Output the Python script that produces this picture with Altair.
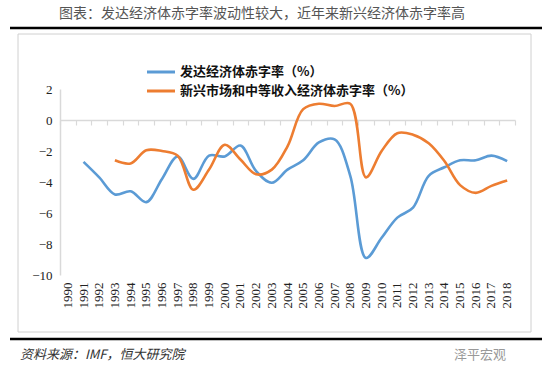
import altair as alt
import pandas as pd

years = [str(y) for y in range(1990, 2019)]
developed = [None, -2.7, -3.7, -4.8, -4.6, -5.3, -3.8, -2.35, -3.8, -2.3, -2.35, -1.65,
             -3.3, -4.05, -3.2, -2.6, -1.45, -1.25, -3.6, -8.9, -7.6, -6.3, -5.65,
             -3.6, -3.05, -2.6, -2.6, -2.3, -2.65]
emerging = [None, None, None, -2.6, -2.8, -1.95, -2.0, -2.3, -4.5, -3.2, -1.6, -2.55,
            -3.5, -3.2, -1.7, 0.7, 1.05, 0.9, 1.05, -3.7, -2.0, -0.85, -0.95, -1.5,
            -2.65, -4.2, -4.7, -4.25, -3.9]
series_names = ["发达经济体赤字率（%）", "新兴市场和中等收入经济体赤字率（%）"]
series_colors = ["#5B9BD5", "#ED7D31"]
y_ticks = [-10, -8, -6, -4, -2, 0, 2]

title_text = "图表：发达经济体赤字率波动性较大，近年来新兴经济体赤字率高"
source_text = "资料来源：IMF，恒大研究院"
mark_text = "泽平宏观"

rows = []
for name, vals in zip(series_names, [developed, emerging]):
    for yr, v in zip(years, vals):
        if v is not None:
            rows.append({"year": yr, "value": v, "series": name})
df = pd.DataFrame(rows)

xscale = alt.Scale(domain=years, paddingInner=0, paddingOuter=0)
yscale = alt.Scale(domain=[-10, 2], nice=False, zero=False)

lines = alt.Chart(df).mark_line(strokeWidth=2.6, interpolate="catmull-rom").encode(
    x=alt.X("year:O", scale=xscale, sort=years,
            axis=alt.Axis(title=None, orient="bottom", labelAngle=-90,
                          labelFont="Liberation Serif", labelOverlap=False,
                          labelFontSize=13, labelColor="#222", domain=False, ticks=False,
                          labelPadding=7, grid=False)),
    y=alt.Y("value:Q", scale=yscale,
            axis=alt.Axis(title=None, values=y_ticks, ticks=False, grid=False,
                          labelOverlap=False,
                          domainColor="#d9d9d9", domainWidth=1.5,
                          labelFont="Liberation Serif", labelFontSize=13,
                          labelColor="#222", labelPadding=8)),
    color=alt.Color("series:N", scale=alt.Scale(domain=series_names, range=series_colors),
                    legend=None),
)

# axis drawn along y = 0 with ticks at the year boundaries
zero_axis = alt.Chart(df).mark_point(opacity=0).encode(
    x=alt.X("year:O", scale=xscale, sort=years,
            axis=alt.Axis(title=None, orient="bottom", labels=False, offset=-155,
                          domainColor="#d9d9d9",
                          domainWidth=1.5, tickColor="#d9d9d9", tickSize=5,
                          tickWidth=1.2, tickBand="extent", grid=False)),
)

# manual legend
legend_layers = []
for i, (name, col) in enumerate(zip(series_names, series_colors)):
    ly = -17 + 19 * i
    legend_layers.append(
        alt.Chart(pd.DataFrame({"t": [name]})).mark_rule(color=col, strokeWidth=3).encode(
            x=alt.value(87), x2=alt.value(115), y=alt.value(ly))
    )
    legend_layers.append(
        alt.Chart(pd.DataFrame({"t": [name]})).mark_text(
            font="Noto Sans CJK SC", fontSize=13, fontWeight="bold", color="#111",
            align="left", baseline="middle").encode(
            text="t:N", x=alt.value(120), y=alt.value(ly))
    )

frame = alt.Chart(pd.DataFrame({"a": [0]})).mark_rect(
    fillOpacity=0, stroke="#d0d0d0", strokeWidth=1
).encode(x=alt.value(-42), x2=alt.value(471), y=alt.value(-55), y2=alt.value(243))

top_line = alt.Chart(pd.DataFrame({"a": [0]})).mark_rule(
    color="#000", strokeWidth=2.5
).encode(x=alt.value(-50), x2=alt.value(482), y=alt.value(-61))
bottom_line = alt.Chart(pd.DataFrame({"a": [0]})).mark_rule(
    color="#000", strokeWidth=2.5
).encode(x=alt.value(-50), x2=alt.value(482), y=alt.value(250))

title = alt.Chart(pd.DataFrame({"t": [title_text]})).mark_text(
    font="Noto Sans CJK SC", fontSize=14, color="#555", align="center", baseline="middle"
).encode(text="t:N", x=alt.value(202), y=alt.value(-75))

source = alt.Chart(pd.DataFrame({"t": [source_text]})).mark_text(
    font="Noto Sans CJK SC", fontSize=13, fontStyle="italic", color="#333",
    align="left", baseline="middle"
).encode(text="t:N", x=alt.value(-40), y=alt.value(266))

wm = alt.Chart(pd.DataFrame({"t": [mark_text]})).mark_text(
    font="Noto Sans CJK SC", fontSize=13, color="#999", align="right", baseline="middle"
).encode(text="t:N", x=alt.value(446), y=alt.value(266))

chart = alt.layer(frame, top_line, bottom_line, title, source, wm, zero_axis, lines,
                  *legend_layers).resolve_axis(
    x="independent"
).properties(
    width=455, height=186,
    padding={"left": 60, "top": 89, "right": 35, "bottom": 100},
    autosize=alt.AutoSizeParams(type="none"),
    background="white",
).configure_view(stroke=None)

chart.save("out.html", embed_options={"renderer": "svg", "actions": False})
